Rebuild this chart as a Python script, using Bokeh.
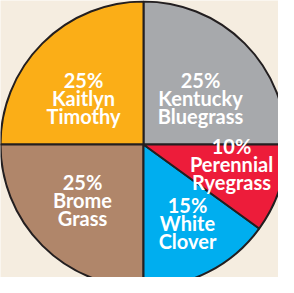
import math
from bokeh.plotting import figure
from bokeh.models import Range1d, ColumnDataSource
from bokeh.core.properties import value
from bokeh.embed import file_html
from bokeh.resources import INLINE

# ---- data ----
names = ["Kentucky Bluegrass", "Kaitlyn Timothy", "Brome Grass", "White Clover", "Perennial Ryegrass"]
percents = [25, 25, 25, 15, 10]
colors = ["#A7A9AC", "#FBAE17", "#B0866A", "#00AEEF", "#ED1C3A"]

# label anchor positions (pixels in plot frame, y up)
label_x = [200, 83, 82, 187, 231]
label_y = [180, 180, 77.5, 55, 114]

W, H = 278, 277
p = figure(width=W, height=H, output_backend="svg", toolbar_location=None,
           x_range=Range1d(0, W), y_range=Range1d(0, H), min_border=0,
           background_fill_color="#F5EDE0", border_fill_color="#F5EDE0")
p.axis.visible = False
p.grid.visible = False
p.outline_line_color = None

cx, cy, r = 143, 133, 143
starts, ends = [], []
acc = 0.0
for v in percents:
    starts.append(acc / 100 * 2 * math.pi)
    acc += v
    ends.append(acc / 100 * 2 * math.pi)

src = ColumnDataSource(dict(start=starts, end=ends, color=colors,
                            x=[cx] * len(names), y=[cy] * len(names)))
p.wedge(x="x", y="y", radius=r, start_angle="start", end_angle="end",
        fill_color="color", line_color="#231F20", line_width=2, source=src)

tx, ty, tt = [], [], []
spacing = 18
for n, v, lx, ly in zip(names, percents, label_x, label_y):
    lines = [f"{v}%"] + n.split(" ")
    k = len(lines)
    for i, s in enumerate(lines):
        tx.append(lx)
        ty.append(ly + ((k - 1) / 2 - i) * spacing)
        tt.append(s)

p.text(x=tx, y=ty, text=tt, text_color="white", text_font=value("Lato"),
       text_font_style="bold", text_font_size="20px",
       text_align="center", text_baseline="middle")

open("out.html", "w").write(file_html(p, INLINE))
